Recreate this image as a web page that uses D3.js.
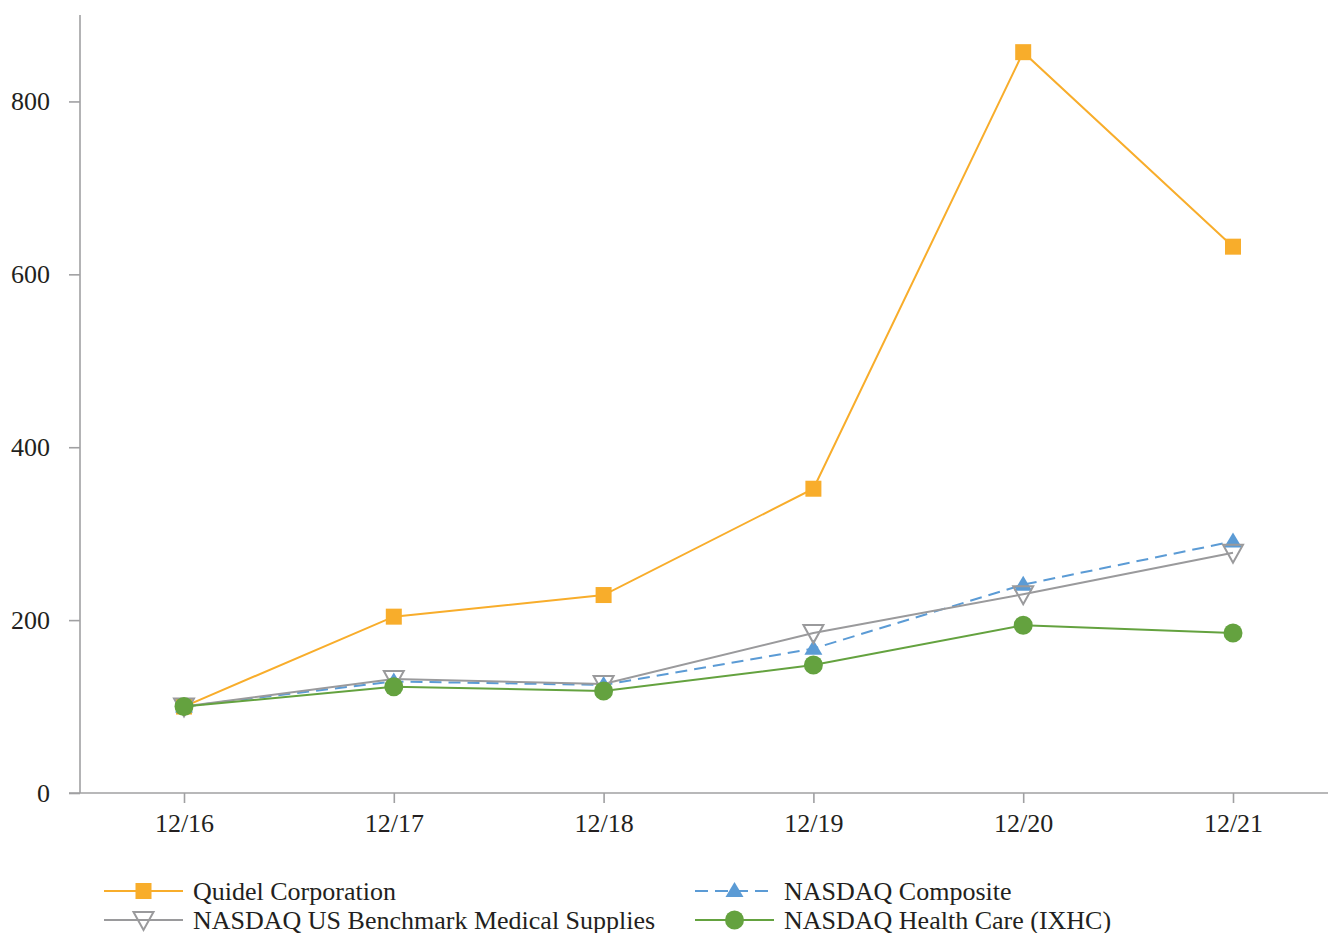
<!DOCTYPE html>
<html>
<head>
<meta charset="utf-8">
<script src="https://cdn.jsdelivr.net/npm/d3@7"></script>
<style>
  body { margin: 0; background: #fff; }
  text { font-family: "Liberation Serif", "Times New Roman", serif; fill: #231f20; }
</style>
</head>
<body>
<div id="chart"></div>
<script>
// data
const periods = ["12/16", "12/17", "12/18", "12/19", "12/20", "12/21"];
const quidel = [100, 204, 229, 352, 857, 632];
const composite = [100, 129, 125, 167, 241, 291];
const medSupplies = [100, 132, 126, 185, 230, 278];
const healthCare = [100, 123, 118, 148, 194, 185];
const yTicks = [0, 200, 400, 600, 800];

const seriesNames = ["Quidel Corporation", "NASDAQ Composite", "NASDAQ US Benchmark Medical Supplies", "NASDAQ Health Care (IXHC)"];

const width = 1328;
const height = 933;

const svg = d3.select("#chart")
    .append("svg")
    .attr("width", width)
    .attr("height", height);

// scales
const x = d3.scalePoint()
    .domain(periods)
    .range([184, 1233]);

const y = d3.scaleLinear()
    .domain([0, 900])
    .range([793, 15]);

const axisColor = "#a0a0a2";

// y axis
const yAxis = svg.append("g")
    .attr("transform", "translate(80,0)")
    .call(d3.axisLeft(y).tickValues(yTicks).tickSize(11).tickPadding(19));
yAxis.select(".domain").attr("d", "M0," + y(900) + "V" + y(0));

// x axis
const xAxis = svg.append("g")
    .attr("transform", "translate(0," + y(0) + ")")
    .call(d3.axisBottom(x).tickSize(10).tickPadding(11));
xAxis.select(".domain").attr("d", "M69,0H" + width);

svg.selectAll(".domain, .tick line")
    .attr("stroke", axisColor)
    .attr("stroke-width", 1.6);
svg.selectAll(".tick text")
    .style("font-size", "26px")
    .style("font-family", "Liberation Serif, serif")
    .attr("fill", "#231f20");

const series = [
  { name: seriesNames[0], values: quidel, color: "#f8ad2b", dash: null, marker: "square" },
  { name: seriesNames[1], values: composite, color: "#5b9bd5", dash: "12,7", marker: "triangleUp" },
  { name: seriesNames[2], values: medSupplies, color: "#9a9a9c", dash: null, marker: "triangleDown" },
  { name: seriesNames[3], values: healthCare, color: "#64a23f", dash: null, marker: "circle" }
];

const line = d3.line()
    .x((d, i) => x(periods[i]))
    .y(d => y(d));

function drawMarker(g, type, color) {
  if (type === "square") {
    g.append("rect").attr("x", -8).attr("y", -8).attr("width", 16).attr("height", 16).attr("fill", color);
  } else if (type === "triangleUp") {
    g.append("path").attr("d", "M0,-9L9,6L-9,6Z").attr("fill", color);
  } else if (type === "triangleDown") {
    g.append("path").attr("d", "M-10,-8L10,-8L0,10Z")
      .attr("fill", "none").attr("stroke", color).attr("stroke-width", 2);
  } else {
    g.append("circle").attr("r", 9.5).attr("fill", color);
  }
}

series.forEach(s => {
  svg.append("path")
    .datum(s.values)
    .attr("d", line)
    .attr("fill", "none")
    .attr("stroke", s.color)
    .attr("stroke-width", 2)
    .attr("stroke-dasharray", s.dash);

  s.values.forEach((v, i) => {
    const g = svg.append("g").attr("transform", "translate(" + x(periods[i]) + "," + y(v) + ")");
    drawMarker(g, s.marker, s.color);
  });
});

// legend
const legendPos = [
  { lx: 104, ly: 891 },
  { lx: 695, ly: 891 },
  { lx: 104, ly: 920 },
  { lx: 695, ly: 920 }
];

series.forEach((s, i) => {
  const p = legendPos[i];
  const lg = svg.append("g").attr("transform", "translate(" + p.lx + "," + p.ly + ")");
  lg.append("line")
    .attr("x1", 0).attr("x2", 79)
    .attr("stroke", s.color)
    .attr("stroke-width", 2)
    .attr("stroke-dasharray", s.dash ? "13,7" : null);
  const m = lg.append("g").attr("transform", "translate(39.5,0)");
  drawMarker(m, s.marker, s.color);
  lg.append("text")
    .attr("x", 89)
    .attr("y", 9)
    .style("font-size", "26px")
    .text(s.name);
});
</script>
</body>
</html>
